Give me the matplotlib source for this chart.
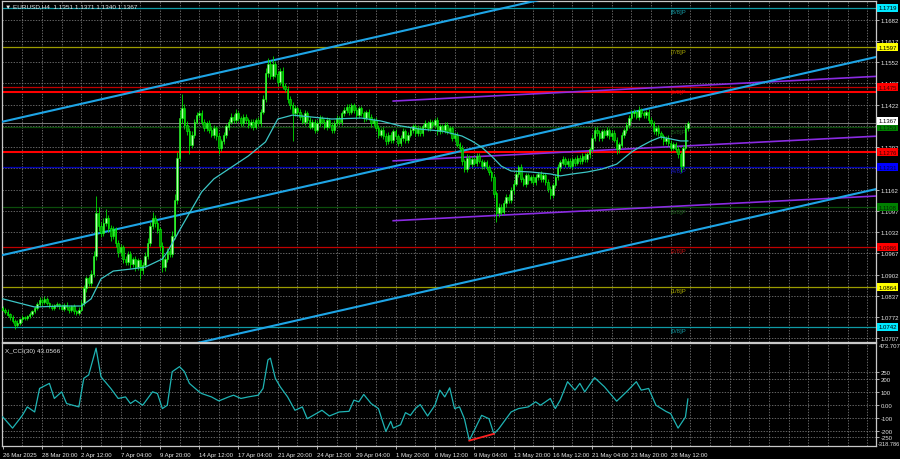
import matplotlib
matplotlib.use('Agg')
import matplotlib.pyplot as plt
import matplotlib.transforms as mtransforms

plt.rcParams['font.family'] = ['Liberation Sans', 'DejaVu Sans']

# ---------------- data (prices in pips, 1 pip = 0.0001) ----------------
close_pips = [
    10795, 10788, 10780, 10772, 10760, 10748, 10755, 10765, 10772, 10768,
    10775, 10782, 10790, 10800, 10812, 10825, 10818, 10828, 10815, 10805,
    10800, 10808, 10812, 10805, 10798, 10810, 10802, 10795, 10805, 10790,
    10785, 10795, 10815, 10860, 10890, 10875, 10905, 10960, 11090, 11050,
    11030, 11060, 11075, 11045, 11020, 11040, 11000, 10970, 10985, 10950,
    10940, 10965, 10935, 10950, 10925, 10945, 10915, 10930, 10960, 11000,
    11050, 11075, 11060, 11040, 10990, 10925, 10950, 10975, 10965, 11020,
    11130, 11260, 11380, 11410, 11360, 11340, 11300, 11330, 11370, 11390,
    11395, 11370, 11350, 11365, 11345, 11330, 11350, 11325, 11290, 11310,
    11330, 11355, 11370, 11385, 11375, 11395, 11380, 11365, 11385, 11375,
    11360, 11370, 11355, 11375, 11365, 11400, 11440, 11520, 11545, 11510,
    11545, 11515, 11490, 11525, 11480, 11470, 11440, 11420, 11395, 11410,
    11400, 11385, 11370, 11395, 11375, 11355, 11370, 11345, 11365, 11380,
    11370, 11355, 11375, 11360, 11345, 11365, 11380, 11370, 11395, 11405,
    11415, 11400, 11420, 11405, 11390, 11410, 11395, 11380, 11400, 11385,
    11365, 11375, 11350, 11330, 11345, 11325, 11310, 11330, 11315, 11340,
    11325, 11305, 11320, 11340, 11315, 11330, 11345, 11355, 11335, 11350,
    11335, 11355, 11365, 11350, 11370, 11360, 11375, 11340, 11355, 11345,
    11360, 11340, 11350, 11320, 11330, 11300, 11290, 11250, 11225, 11260,
    11240, 11255, 11245, 11265, 11250, 11235, 11245, 11230, 11215, 11200,
    11150, 11090, 11110, 11095, 11120, 11140, 11130, 11160, 11180, 11210,
    11230, 11195, 11180, 11205, 11190, 11200, 11185, 11200, 11210, 11195,
    11205, 11185, 11165, 11145, 11175, 11200, 11230, 11245, 11255, 11240,
    11250, 11235, 11255, 11245, 11260, 11250, 11265, 11255, 11270, 11285,
    11320, 11345, 11335, 11320, 11340, 11330, 11345, 11325, 11335, 11315,
    11285, 11300, 11330, 11345, 11360, 11380, 11395, 11400, 11385, 11405,
    11395, 11390, 11400, 11375, 11365, 11340, 11350, 11335, 11325, 11310,
    11320, 11305, 11290, 11300, 11285, 11270, 11235, 11290, 11351, 11367,
]
first_open_pips = 10800
wick_up = [
    6, 5, 8, 4, 6, 5, 7, 4, 6, 5,
    5, 6, 4, 7, 5, 10, 6, 8, 5, 4,
    6, 5, 7, 4, 6, 5, 8, 4, 5, 6,
    5, 7, 8, 10, 9, 8, 12, 15, 53, 20,
    12, 15, 28, 10, 8, 12, 9, 8, 10, 7,
    9, 8, 10, 7, 8, 9, 6, 10, 12, 15,
    12, 20, 10, 8, 9, 12, 10, 9, 8, 15,
    20, 18, 25, 45, 15, 12, 10, 12, 9, 10,
    8, 10, 9, 7, 10, 8, 9, 7, 10, 8,
    9, 7, 8, 10, 9, 14, 8, 7, 9, 8,
    7, 8, 9, 6, 8, 10, 12, 15, 20, 14,
    26, 12, 10, 8, 12, 9, 10, 8, 9, 10,
    8, 9, 7, 10, 8, 9, 7, 8, 9, 10,
    7, 8, 9, 6, 8, 9, 10, 7, 8, 9,
    8, 9, 7, 8, 10, 7, 8, 9, 7, 8,
    9, 7, 8, 10, 7, 8, 9, 7, 8, 9,
    7, 8, 9, 10, 7, 8, 9, 8, 7, 9,
    8, 7, 9, 8, 7, 5, 5, 8, 9, 7,
    8, 9, 7, 8, 9, 7, 8, 9, 7, 10,
    8, 9, 7, 8, 9, 7, 8, 9, 7, 8,
    10, 9, 12, 8, 9, 10, 8, 9, 10, 12,
    8, 9, 7, 8, 9, 7, 8, 9, 7, 8,
    7, 8, 9, 7, 8, 9, 10, 8, 9, 7,
    8, 9, 7, 8, 9, 7, 8, 9, 7, 8,
    12, 10, 8, 9, 7, 8, 9, 7, 8, 9,
    7, 8, 9, 7, 8, 9, 10, 8, 7, 13,
    8, 9, 7, 8, 9, 7, 8, 9, 7, 8,
    7, 8, 9, 7, 8, 9, 7, 10, 12, 4,
]
wick_down = [
    5, 7, 6, 8, 7, 12, 5, 6, 7, 5,
    6, 5, 7, 5, 6, 5, 8, 6, 7, 5,
    7, 5, 6, 8, 5, 6, 7, 9, 6, 8,
    7, 6, 5, 8, 10, 9, 8, 10, 12, 15,
    12, 10, 8, 12, 15, 10, 12, 15, 10, 12,
    10, 9, 12, 10, 11, 9, 26, 10, 8, 9,
    10, 9, 12, 10, 15, 15, 12, 10, 9, 8,
    10, 12, 10, 15, 12, 10, 29, 10, 9, 8,
    9, 10, 8, 9, 10, 8, 9, 10, 19, 9,
    8, 9, 10, 8, 9, 10, 8, 9, 7, 8,
    9, 8, 10, 7, 8, 9, 7, 10, 12, 9,
    10, 9, 12, 8, 10, 9, 12, 10, 85, 9,
    9, 10, 8, 9, 10, 8, 9, 10, 8, 9,
    8, 9, 10, 8, 9, 10, 8, 9, 10, 8,
    9, 10, 8, 9, 10, 8, 9, 10, 8, 9,
    10, 8, 9, 10, 8, 9, 10, 8, 9, 10,
    8, 9, 10, 8, 9, 10, 8, 9, 10, 8,
    9, 10, 8, 9, 10, 8, 9, 10, 8, 9,
    10, 8, 9, 10, 8, 9, 10, 12, 10, 9,
    10, 8, 9, 10, 8, 9, 10, 8, 9, 12,
    15, 27, 12, 10, 9, 10, 8, 9, 10, 8,
    9, 10, 8, 9, 10, 8, 9, 10, 8, 9,
    10, 8, 9, 12, 10, 8, 9, 10, 8, 9,
    10, 8, 9, 10, 8, 9, 10, 8, 9, 10,
    8, 9, 10, 8, 9, 10, 8, 9, 10, 8,
    15, 10, 8, 9, 10, 8, 9, 10, 8, 9,
    10, 8, 9, 10, 8, 9, 10, 8, 9, 10,
    8, 9, 10, 8, 9, 10, 19, 10, 8, 11,
]

ma_bars = [0, 13, 24, 32, 36, 40, 45, 52, 58, 65, 67, 73, 77, 81, 86, 92, 100, 107,
           112, 118, 122, 134, 146, 154, 162, 170, 179, 187, 191, 195, 199, 203, 207,
           215, 223, 227, 232, 238, 244, 250, 256, 260, 264, 268, 272, 276, 279]
ma_pips = [10828, 10803, 10806, 10806, 10828, 10889, 10913, 10919, 10925, 10950, 10971,
           11051, 11103, 11155, 11195, 11225, 11265, 11308, 11378, 11390, 11387, 11378,
           11381, 11372, 11357, 11347, 11341, 11326, 11311, 11292, 11265, 11234, 11219,
           11216, 11210, 11204, 11210, 11216, 11225, 11240, 11277, 11295, 11311, 11323,
           11317, 11311, 11311]

cci_bars = [0, 4, 8, 10, 13, 15, 19, 21, 24, 26, 31, 33, 35, 38, 40, 44, 47, 50, 52, 54,
            57, 61, 63, 65, 67, 69, 72, 74, 76, 80, 81, 85, 88, 92, 94, 97, 100, 104,
            106, 108, 109, 111, 113, 116, 119, 122, 124, 130, 133, 137, 141, 143, 145,
            147, 150, 153, 156, 158, 159, 162, 164, 166, 168, 170, 173, 176, 178, 180,
            182, 184, 186, 188, 190, 192, 195, 198, 200, 202, 207, 210, 214, 217, 219,
            223, 225, 227, 230, 233, 235, 237, 241, 245, 250, 254, 258, 260, 263, 266,
            270, 272, 275, 278, 279]
cci_vals = [-95, -181, -83, -18, -57, 124, 163, 47, 98, 8, -18, 202, 228, 434, 214, 124,
            47, 59, 8, 34, -5, 98, 85, -31, -5, 253, 292, 253, 163, 98, 85, 59, 28, 59,
            72, 47, 59, 72, 124, 344, 357, 202, 137, 59, -44, -18, -109, -44, -88, -57,
            -52, 34, 21, 78, 8, -31, -207, -129, -181, -155, -62, -83, -31, 0, -88, -5,
            111, 59, 129, -31, -18, -109, -276, -199, -83, -109, -225, -186, -57, -31,
            -18, 21, -5, 47, -31, 34, 176, 111, 163, 98, 207, 137, 26, 98, 176, 111, 124,
            -5, -52, -70, -181, -96, 43.0566]
cci_div_bars = [190, 200]
cci_div_vals = [-277, -225]

trend_bars = [0, 300]
trend_upper = [11370, 11881]
trend_middle = [10962, 11473]
trend_lower = [10558, 11069]

reg_bars = [159, 357]
reg_upper = [11433, 11509]
reg_middle = [11250, 11326]
reg_lower = [11067, 11143]

murrey_levels = [1.1719, 1.1597, 1.1475, 1.1353, 1.1231, 1.1108, 1.0986, 1.0864, 1.0742]
murrey_names = ['[8/8]P', '[7/8]P', '[6/8]P', '[5/8]P', '[4/8]P', '[3/8]P', '[2/8]P', '[1/8]P', '[0/8]P']
red_levels = [1.1462, 1.1276]
current_price = 1.1367

price_ticks = [1.1682, 1.1617, 1.1552, 1.1487, 1.1422, 1.1357, 1.1292, 1.1227, 1.1162,
               1.1097, 1.1032, 1.0967, 1.0902, 1.0837, 1.0772, 1.0707]
hidden_price_ticks = [1.1357, 1.1227]   # covered by the level boxes in the original
cci_ticks = [250, 200, 100, 0, -100, -200, -250]
cci_range = [-318.786, 473.707]

date_labels = ['26 Mar 2025', '28 Mar 20:00', '2 Apr 12:00', '7 Apr 04:00', '9 Apr 20:00',
               '14 Apr 12:00', '17 Apr 04:00', '21 Apr 20:00', '24 Apr 12:00', '29 Apr 04:00',
               '1 May 20:00', '6 May 12:00', '9 May 04:00', '13 May 20:00', '16 May 12:00',
               '21 May 04:00', '23 May 20:00', '28 May 12:00']

title_text = '\u25BC EURUSD,H4  1.1351 1.1371 1.1340 1.1367'
cci_title = 'X_CCI(30) 43.0566'

# ---------------- style ----------------
BG = '#000000'
GRID = '#8a8a8a'
FRAME = '#c8c8c8'
TXT = '#e6e6e6'
FS = 4.3
BARS_PER_LABEL = 16
BARS_PER_GRID = 8
LABEL_BAR = 272
X_LEFT, X_RIGHT = -0.3, 355.6
Y_LOW, Y_HIGH = 1.0696, 1.1739

murrey_line_colors = ['#0e9aa6', '#9c9c00', '#c00000', '#0b4d0b', '#0000b4',
                      '#0b4d0b', '#c00000', '#9c9c00', '#0e9aa6']
murrey_text_colors = ['#149ca6', '#a8a800', '#c41010', '#1b5e1b', '#1a1ad0',
                      '#1b5e1b', '#c41010', '#b0b000', '#149ca6']
box_colors = ['#00e8ff', '#ffff00', '#ff0000', '#008000', '#0000ff',
              '#008000', '#ff0000', '#ffff00', '#00e8ff']
box_text = ['#000000', '#000000', '#400000', '#002800', '#000040',
            '#002800', '#400000', '#000000', '#000000']

fig = plt.figure(figsize=(9, 4.6), dpi=100, facecolor=BG)
W, H = 900.0, 460.0
ax = fig.add_axes([2 / W, 1 - 343 / H, 874 / W, 341 / H], facecolor=BG)
ax2 = fig.add_axes([2 / W, 1 - 447 / H, 874 / W, 103 / H], facecolor=BG)

n = len(close_pips)
xs = list(range(n))
closes = [c / 10000 for c in close_pips]
opens = [first_open_pips / 10000] + closes[:-1]
highs = [max(o, c) + u / 10000 for o, c, u in zip(opens, closes, wick_up)]
lows = [min(o, c) - d / 10000 for o, c, d in zip(opens, closes, wick_down)]

for a in (ax, ax2):
    a.set_xlim(X_LEFT, X_RIGHT)
    for s in a.spines.values():
        s.set_color(FRAME)
        s.set_linewidth(0.9)
    for b in range(BARS_PER_GRID, int(X_RIGHT) + 1, BARS_PER_GRID):
        a.axvline(b, color=GRID, lw=0.5, ls=(0, (2, 2)), zorder=0)

ax.set_ylim(Y_LOW, Y_HIGH)
for t in price_ticks:
    ax.axhline(t, color=GRID, lw=0.5, ls=(0, (2, 2)), zorder=0)

# Murrey levels
for lvl, nm, lc, tc in zip(murrey_levels, murrey_names, murrey_line_colors, murrey_text_colors):
    ax.axhline(lvl, color=lc, lw=0.9, zorder=1)
    ax.text(LABEL_BAR, lvl - 0.0004, nm, color=tc, fontsize=FS, va='top', ha='left', zorder=2)
for lvl in red_levels:
    ax.axhline(lvl, color='#ff0000', lw=1.5, zorder=2)
ax.axhline(current_price, color='#7a7a7a', lw=0.7, zorder=1)

# trend channel (lines extended across the chart through the two anchors)
for ys in (trend_upper, trend_middle, trend_lower):
    slope = (ys[1] - ys[0]) / (trend_bars[1] - trend_bars[0])
    x0, x1 = X_LEFT - 1, X_RIGHT + 1
    ax.plot([x0, trend_bars[0], trend_bars[1], x1],
            [(ys[0] + slope * (x0 - trend_bars[0])) / 10000, ys[0] / 10000, ys[1] / 10000,
             (ys[1] + slope * (x1 - trend_bars[1])) / 10000],
            color='#1ea5e6', lw=1.5, zorder=4)

# regression channel
for ys in (reg_upper, reg_middle, reg_lower):
    ax.plot(reg_bars, [v / 10000 for v in ys], color='#8a2be2', lw=1.2, zorder=3)

# candles
bull_x = [x for x, o, c in zip(xs, opens, closes) if c >= o]
bear_x = [x for x, o, c in zip(xs, opens, closes) if c < o]
ax.vlines(xs, lows, highs, color='#00e000', lw=0.6, zorder=5)
ax.bar(bull_x, [closes[i] - opens[i] + 0.00003 for i in bull_x],
       bottom=[opens[i] for i in bull_x], width=0.6, color='#b8ffb0',
       edgecolor='#00ff00', linewidth=0.4, zorder=6)
ax.bar(bear_x, [opens[i] - closes[i] + 0.00003 for i in bear_x],
       bottom=[closes[i] for i in bear_x], width=0.6, color='#009a00',
       edgecolor='#00ff00', linewidth=0.4, zorder=6)

# moving average
ax.plot(ma_bars, [v / 10000 for v in ma_pips], color='#3cc6c6', lw=0.9, zorder=7)

# right-hand price scale
ax.yaxis.tick_right()
ax.set_yticks(price_ticks)
ax.set_yticklabels(['' if t in hidden_price_ticks else f'{t:.4f}' for t in price_ticks])
ax.tick_params(axis='y', colors=FRAME, labelcolor=TXT, labelsize=FS, length=2, width=0.6, pad=1.5)
ax.set_xticks([])

trans = mtransforms.blended_transform_factory(ax.transAxes, ax.transData)
for lvl, bc, tc in zip(murrey_levels, box_colors, box_text):
    ax.text(1.0025, lvl, f'{lvl:.4f}', transform=trans, fontsize=FS, color=tc, va='center',
            ha='left', clip_on=False, zorder=10,
            bbox=dict(boxstyle='square,pad=0.25', fc=bc, ec='none'))
ax.text(1.0025, red_levels[1], f'{red_levels[1]:.4f}', transform=trans, fontsize=FS,
        color='#400000', va='center', ha='left', clip_on=False, zorder=10,
        bbox=dict(boxstyle='square,pad=0.25', fc='#ff0000', ec='none'))
ax.text(1.0025, current_price + 0.0006, f'{current_price:.4f}', transform=trans, fontsize=FS,
        color='#000000', va='center', ha='left', clip_on=False, zorder=11,
        bbox=dict(boxstyle='square,pad=0.25', fc='#ffffff', ec='none'))

ax.text(0.004, 0.993, title_text, transform=ax.transAxes, fontsize=4.6, color=TXT,
        va='top', ha='left', zorder=12)

# ---------------- CCI panel ----------------
ax2.set_ylim(cci_range[0], cci_range[1])
for t in cci_ticks:
    ax2.axhline(t, color=GRID, lw=0.5, ls=(0, (2, 2)), zorder=0)
ax2.plot(cci_bars, cci_vals, color='#1fb4b4', lw=0.9, zorder=3)
ax2.plot(cci_div_bars, cci_div_vals, color='#ff2020', lw=1.3, zorder=4)
ax2.yaxis.tick_right()
ax2.set_yticks(cci_ticks)
ax2.set_yticklabels([f'{t:.2f}' if t == 0 else f'{t}' for t in cci_ticks])
ax2.tick_params(axis='y', colors=FRAME, labelcolor=TXT, labelsize=FS, length=2, width=0.6, pad=1.5)
trans2 = mtransforms.blended_transform_factory(ax2.transAxes, ax2.transData)
ax2.text(1.003, cci_range[1], f'{cci_range[1]:.3f}', transform=trans2, fontsize=FS,
         color=TXT, va='top', ha='left', clip_on=False)
ax2.text(1.002, cci_range[0], f'{cci_range[0]:.3f}', transform=trans2, fontsize=4.1,
         color=TXT, va='bottom', ha='left', clip_on=False)
ax2.text(0.004, 0.955, cci_title, transform=ax2.transAxes, fontsize=4.6, color=TXT,
         va='top', ha='left')

label_pos = [i * BARS_PER_LABEL for i in range(len(date_labels))]
ax2.set_xticks(label_pos)
ax2.set_xticklabels(date_labels)
for lbl in ax2.get_xticklabels():
    lbl.set_horizontalalignment('left')
ax2.tick_params(axis='x', colors=FRAME, labelcolor=TXT, labelsize=FS, length=2.5, width=0.6, pad=1.5)

fig.savefig('out.png', dpi=100, facecolor=BG)
